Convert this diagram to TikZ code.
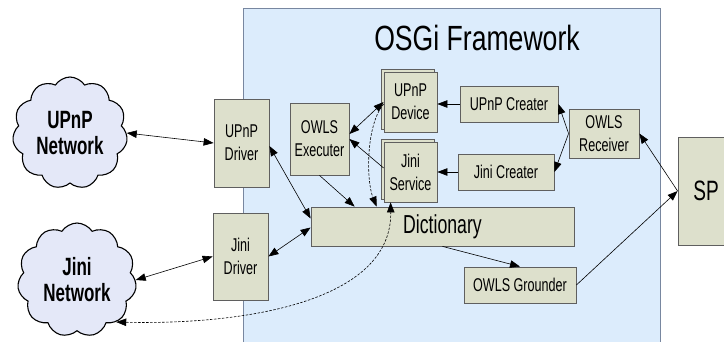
\documentclass[tikz,border=0pt]{standalone}
\usepackage{fontspec}
\setmainfont[FakeStretch=0.68]{Liberation Sans}
\newfontfamily\titlefont[FakeStretch=0.76]{Liberation Sans}
\usetikzlibrary{arrows.meta,shapes.symbols,calc}
\definecolor{boxfill}{RGB}{221,224,204}
\definecolor{boxline}{RGB}{95,95,95}
\definecolor{fwfill}{RGB}{220,236,252}
\definecolor{fwline}{RGB}{120,135,160}
\definecolor{cloudfill}{RGB}{228,232,248}
\begin{document}
\begin{tikzpicture}[x=1pt,y=-1pt,
  box/.style={draw=boxline, fill=boxfill, line width=0.8pt, inner sep=0pt, align=center,
    font=\fontsize{18.5}{23}\selectfont},
  cloudnode/.style={cloud, cloud puffs=11, cloud puff arc=115, draw=black, line width=1.1pt,
    fill=cloudfill, aspect=1, inner sep=0pt, align=center,
    font=\bfseries\fontsize{25}{26}\selectfont},
  conn/.style={line width=0.6pt, draw=black},
  arr/.style={conn, -{Triangle[length=10pt,width=7.5pt]}},
  darr/.style={conn, {Triangle[length=10pt,width=7.5pt]}-{Triangle[length=10pt,width=7.5pt]}},
  dashline/.style={conn, dashed, dash pattern=on 2.5pt off 1.5pt}
]
\useasboundingbox (0,0) rectangle (724,341);
% framework
\draw[fill=fwfill, draw=fwline, line width=1pt] (243,8) rectangle (660,360);
\node[anchor=base, font=\titlefont\fontsize{35}{40}\selectfont] (title) at (477,50) {OSGi Framework};

% clouds
\node[cloudnode, minimum width=115pt, minimum height=112pt] (un) at (70,133) {UPnP\\Network};
\node[cloudnode, minimum width=119pt, minimum height=114pt] (jn) at (77,280) {Jini\\Network};

% boxes
\node[box, minimum width=55pt, minimum height=88pt] (upd) at (241.5,143) {UPnP\\Driver};
\node[box, minimum width=55pt, minimum height=87pt] (jd) at (240.5,256.5) {Jini\\Driver};
\node[box, minimum width=59pt, minimum height=72pt] (oe) at (319.5,139) {OWLS\\Executer};
\draw[draw=boxline, fill=boxfill, line width=0.8pt] (381.5,69.5) rectangle (434.5,129.5);
\node[box, minimum width=53pt, minimum height=60pt] (udev) at (410.5,102) {UPnP\\Device};
\draw[draw=boxline, fill=boxfill, line width=0.8pt] (381.5,139.5) rectangle (434.5,199.5);
\node[box, minimum width=53pt, minimum height=60pt] (js) at (410.5,172) {Jini\\Service};
\node[box, minimum width=98pt, minimum height=36pt] (uc) at (509,104) {UPnP Creater};
\node[box, minimum width=96pt, minimum height=36pt] (jc) at (506,172) {Jini Creater};
\node[box, minimum width=70pt, minimum height=49pt] (or) at (604,133.5) {OWLS\\Receiver};
\node[box, minimum width=56pt, minimum height=108pt, font=\fontsize{28}{30}\selectfont] (sp) at (706,191) {SP};
\node[box, minimum width=263pt, minimum height=39pt, font=\fontsize{26}{28}\selectfont] (dict) at (442.5,226.5) {Dictionary};
\node[box, minimum width=112pt, minimum height=36pt] (og) at (520,285) {OWLS Grounder};

% connectors
\draw[darr] (un.east) -- (upd.west);
\draw[darr] (jn.east) -- (jd.west);
\draw[darr] ([yshift=-3pt]upd.east) -- ([yshift=8pt]dict.west);
\draw[darr] (jd.east) -- ([yshift=-1pt]dict.west);
\draw[arr] (oe.south) -- ([xshift=44pt]dict.north west);
\draw[darr] ([yshift=5pt]oe.east) -- (udev.west);
\draw[arr] ([yshift=4pt]js.west) -- (oe.east);
\draw[arr] (uc.west) -- (uc.west -| udev.east);
\draw[arr] (jc.west) -- (js.east);
\draw[arr] (or.west) -- (uc.east);
\draw[arr] (or.west) -- (jc.east);
\draw[arr] (sp.west) -- (or.east);
\draw[arr] (og.east) -- (sp.west);
\draw[arr] (dict.south) -- (og.north);
\draw[dashline, -{Triangle[length=10pt,width=7.5pt]}] ([yshift=-2pt]udev.west) .. controls (366,125) and (366,180) .. ([xshift=66pt]dict.north west);
\draw[dashline, {Triangle[length=10pt,width=7.5pt]}-{Triangle[length=10pt,width=7.5pt]}] (jn.-47) .. controls (250,325) and (392,300) .. ([xshift=7pt]js.south west);
\end{tikzpicture}
\end{document}
